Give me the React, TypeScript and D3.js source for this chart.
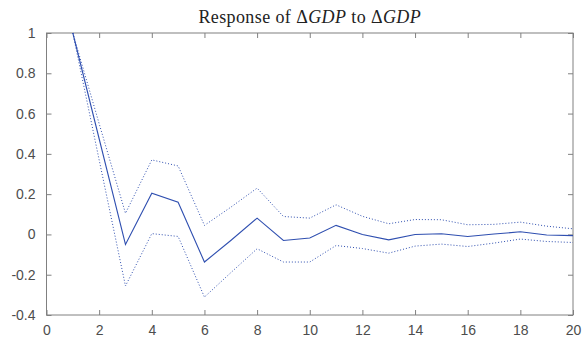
import React, { useEffect, useRef } from 'react';
import * as d3 from 'd3';

const steps = [1, 2, 3, 4, 5, 6, 7, 8, 9, 10, 11, 12, 13, 14, 15, 16, 17, 18, 19, 20];
const response = [1, 0.475, -0.05, 0.205, 0.16, -0.137, -0.03, 0.081, -0.03, -0.018, 0.045, 0.0, -0.027, 0.0, 0.003, -0.01, 0.002, 0.013, -0.003, -0.006];
const upperBand = [1, 0.55, 0.105, 0.37, 0.34, 0.045, 0.135, 0.23, 0.089, 0.081, 0.147, 0.09, 0.053, 0.074, 0.073, 0.048, 0.05, 0.061, 0.041, 0.028];
const lowerBand = [1, 0.37, -0.256, 0.004, -0.01, -0.311, -0.19, -0.071, -0.137, -0.137, -0.055, -0.07, -0.093, -0.058, -0.048, -0.06, -0.043, -0.023, -0.035, -0.04];

const xTicks = [0, 2, 4, 6, 8, 10, 12, 14, 16, 18, 20];
const yTicks = [-0.4, -0.2, 0, 0.2, 0.4, 0.6, 0.8, 1];

const WIDTH = 584;
const HEIGHT = 342;
const margin = { top: 33, right: 11, bottom: 27, left: 46.5 };

export default function App() {
  const svgRef = useRef<SVGSVGElement>(null);

  useEffect(() => {
    if (!svgRef.current) return;
    const svg = d3.select(svgRef.current);
    svg.selectAll('*').remove();

    const innerWidth = WIDTH - margin.left - margin.right;
    const innerHeight = HEIGHT - margin.top - margin.bottom;

    const x = d3.scaleLinear().domain([0, 20]).range([0, innerWidth]);
    const y = d3.scaleLinear().domain([-0.4, 1]).range([innerHeight, 0]);

    svg.append('rect').attr('width', WIDTH).attr('height', HEIGHT).attr('fill', '#fff');

    const g = svg.append('g').attr('transform', `translate(${margin.left}, ${margin.top})`);

    const axisColor = '#808080';
    const textColor = '#4d4d4d';
    const tickLen = 5;

    // box
    g.append('rect')
      .attr('width', innerWidth)
      .attr('height', innerHeight)
      .attr('fill', 'none')
      .attr('stroke', axisColor)
      .attr('stroke-width', 1);

    const styleAxis = (sel: d3.Selection<SVGGElement, unknown, null, undefined>) => {
      sel.select('.domain').remove();
      sel.selectAll('.tick line').attr('stroke', axisColor);
      sel.selectAll('.tick text')
        .attr('fill', textColor)
        .style('font-family', '"Liberation Sans", Arial, Helvetica, sans-serif')
        .style('font-size', '14px');
    };

    // bottom
    g.append('g')
      .attr('transform', `translate(0, ${innerHeight})`)
      .call(d3.axisBottom(x).tickValues(xTicks).tickSizeInner(-tickLen).tickSizeOuter(0).tickPadding(10).tickFormat(d => String(d)))
      .call(styleAxis);

    // top
    g.append('g')
      .call(d3.axisTop(x).tickValues(xTicks).tickSizeInner(-tickLen).tickSizeOuter(0).tickFormat(() => ''))
      .call(styleAxis);

    // left
    g.append('g')
      .call(d3.axisLeft(y).tickValues(yTicks).tickSizeInner(-tickLen).tickSizeOuter(0).tickPadding(11).tickFormat(d => String(+(+d).toFixed(1))))
      .call(styleAxis);

    // right
    g.append('g')
      .attr('transform', `translate(${innerWidth}, 0)`)
      .call(d3.axisRight(y).tickValues(yTicks).tickSizeInner(-tickLen).tickSizeOuter(0).tickFormat(() => ''))
      .call(styleAxis);

    const line = d3.line<number>()
      .x((d, i) => x(steps[i]))
      .y(d => y(d));

    const lineColor = '#2f4fb0';

    // confidence bands (dotted)
    [upperBand, lowerBand].forEach(band => {
      g.append('path')
        .datum(band)
        .attr('fill', 'none')
        .attr('stroke', lineColor)
        .attr('stroke-width', 1)
        .attr('stroke-dasharray', '1,2')
        .attr('d', line);
    });

    g.append('path')
      .datum(response)
      .attr('fill', 'none')
      .attr('stroke', lineColor)
      .attr('stroke-width', 1.1)
      .attr('d', line);

    // title
    const title = svg.append('text')
      .attr('x', margin.left + innerWidth / 2)
      .attr('y', 23)
      .attr('text-anchor', 'middle')
      .attr('fill', '#222')
      .style('font-family', '"Liberation Serif", "DejaVu Serif", serif')
      .style('font-size', '18px')
      .style('letter-spacing', '0.4px');
    title.append('tspan').text('Response of Δ');
    title.append('tspan').attr('font-style', 'italic').text('GDP');
    title.append('tspan').text(' to Δ');
    title.append('tspan').attr('font-style', 'italic').text('GDP');
  }, []);

  return (
    <svg
      ref={svgRef}
      width={WIDTH}
      height={HEIGHT}
      viewBox={`0 0 ${WIDTH} ${HEIGHT}`}
      style={{ position: 'absolute', left: 0, top: 0 }}
    />
  );
}
